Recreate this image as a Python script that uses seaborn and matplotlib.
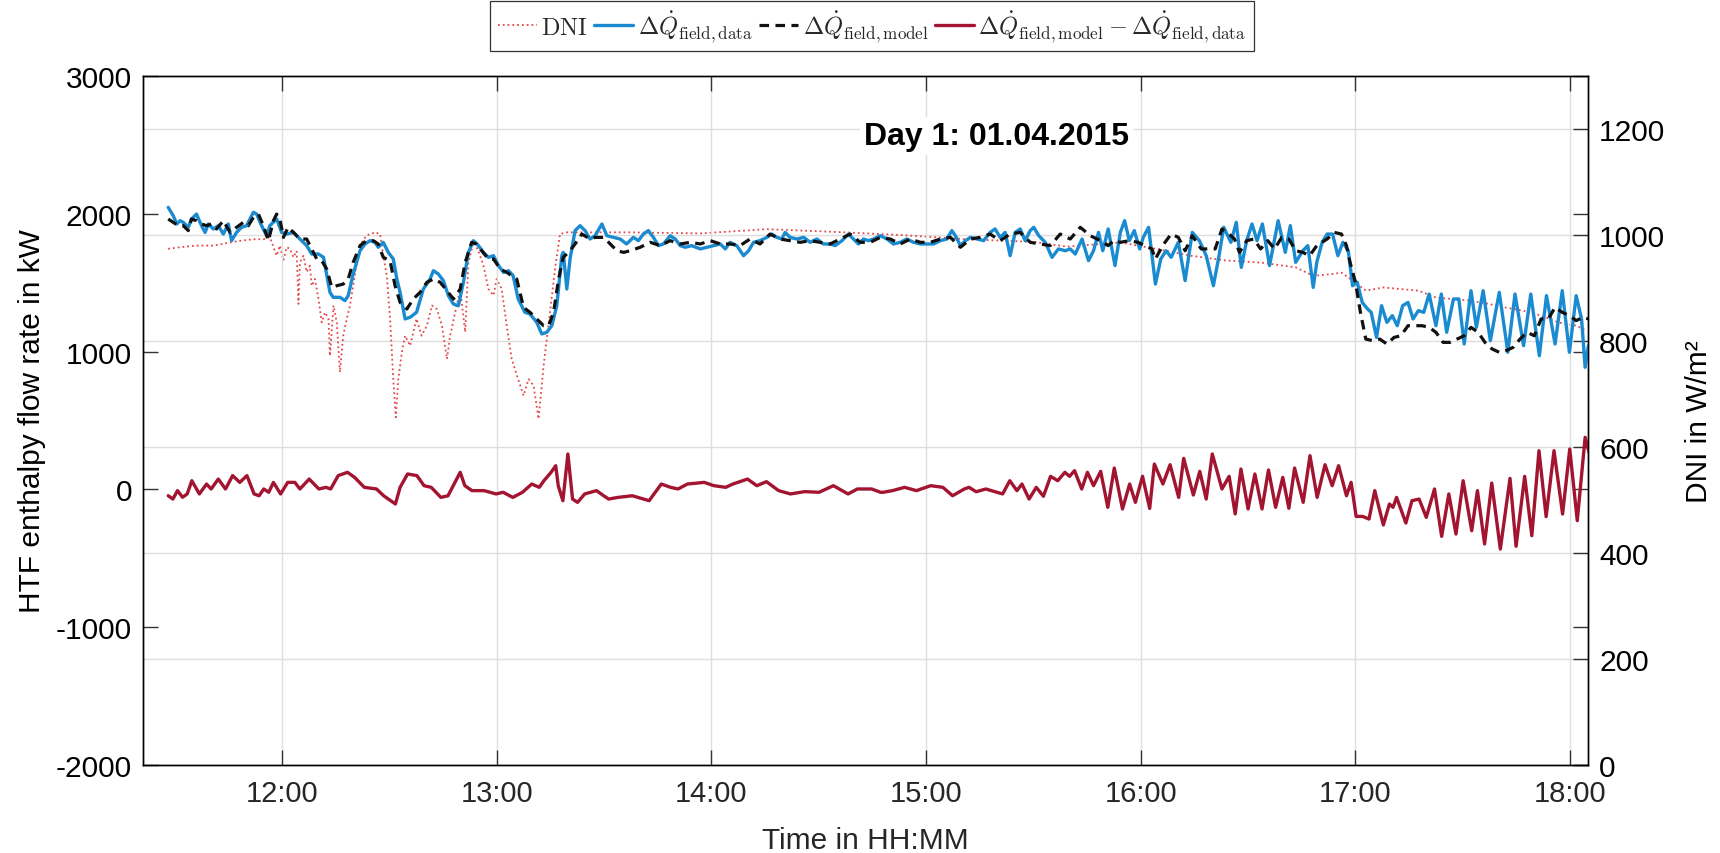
import numpy as np
import pandas as pd
import matplotlib
matplotlib.use("Agg")
import matplotlib.pyplot as plt
import seaborn as sns
from matplotlib.ticker import FixedLocator, FuncFormatter

# ---------------- data (time in minutes relative to 12:00) ----------------
NOON_MIN = 720

t_data = [-31.8, -30.4, -29.4, -28.5, -27.6, -26.2, -25.3, -23.9, -22.5, -21.5,
          -20.6, -19.2, -17.8, -16.4, -15.0, -14.1, -12.7, -11.3, -9.9, -8.0,
          -7.1, -5.7, -4.3, -3.4, -1.5, -0.1, 1.3, 3.2, 5.0, 6.9,
          8.3, 10.2, 11.6, 13.4, 14.3, 16.2, 17.6, 18.5, 19.9, 21.8,
          23.2, 24.6, 26.0, 26.9, 28.3, 29.7, 31.1, 32.1, 33.0, 34.4,
          35.8, 37.6, 39.5, 41.4, 42.3, 43.7, 45.1, 46.5, 47.9, 49.3,
          50.7, 52.1, 53.5, 54.9, 56.3, 57.7, 59.1, 60.5, 61.9, 63.3,
          64.6, 66.0, 67.9, 69.3, 71.2, 72.6, 74.0, 75.4, 76.8, 78.2,
          78.6, 79.6, 80.5, 81.9, 83.3, 84.7, 86.1, 87.5, 89.4, 90.8,
          92.6, 94.5, 96.3,
          98.2, 99.6, 101.0, 102.4, 103.8, 105.2, 106.6, 108.5, 109.9, 111.3,
          112.7, 114.5, 116.9, 118.7, 120.6, 122.5, 123.9, 125.2, 127.1, 129.0,
          130.4, 131.8, 133.6, 135.5, 136.9, 138.3, 139.7, 140.6, 142.0, 143.9,
          145.8, 147.6, 149.5, 151.3, 153.2, 154.6, 156.5, 158.3, 159.7, 161.1,
          162.5, 163.9, 165.3, 167.2, 169.1, 170.9, 172.8, 174.6, 176.5, 178.4,
          180.2, 182.1, 184.0, 185.8, 187.2, 188.2, 189.6, 191.0, 192.4, 194.2,
          196.1, 197.9, 199.3, 200.7, 202.1, 203.5, 204.9, 206.3, 207.7, 209.1,
          210.1, 211.5, 213.3, 215.2, 217.0, 218.9, 220.3, 221.7, 223.6, 225.4,
          226.8, 228.2,
          229.4, 230.9, 232.8, 234.3, 235.5, 236.8, 238.2, 239.7, 240.7, 242.2,
          244.1, 245.6, 247.1, 248.5, 250.5, 252.4, 254.4, 256.4, 258.3, 260.3,
          261.8, 263.2, 265.2, 266.7, 268.1, 269.6, 271.1, 272.5, 274.0, 276.0,
          278.4, 280.4, 281.8, 283.3, 285.3, 286.7, 288.2, 289.2, 290.7, 292.1,
          293.6, 295.1, 296.5, 298.0, 299.2, 300.5, 301.9, 303.4, 304.4, 305.9,
          307.3, 308.8, 310.3, 311.7, 313.2, 314.7, 316.1, 317.6, 319.1, 320.6,
          322.5, 324.0, 325.5, 327.4, 328.9, 330.4, 332.3, 333.8, 335.7, 337.7,
          340.2, 342.6, 344.6, 347.0, 349.0, 351.4, 353.4, 355.8, 357.8, 359.8,
          361.7, 363.2, 364.2, 365.1]
q_data = [2047, 1986, 1926, 1950, 1938, 1902, 1962, 1998, 1914, 1865,
          1926, 1890, 1914, 1853, 1926, 1805, 1865, 1902, 1914, 2011,
          1998, 1914, 1841, 1914, 1962, 1865, 1853, 1865, 1817, 1769,
          1708, 1708, 1684, 1430, 1394, 1394, 1370, 1406, 1563, 1732,
          1781, 1805, 1793, 1757, 1793, 1720, 1672, 1527, 1430, 1237,
          1249, 1285, 1454, 1527, 1587, 1563, 1515, 1406, 1345, 1333,
          1503, 1720, 1805, 1769, 1720, 1684, 1696, 1624, 1575, 1587,
          1551, 1382, 1285, 1273, 1212, 1128, 1140, 1188, 1333, 1696,
          1720, 1454, 1672, 1878, 1914, 1878, 1817, 1841, 1926, 1841,
          1829, 1817, 1781,
          1829, 1805, 1853, 1878, 1829, 1769, 1781, 1841, 1817, 1769,
          1757, 1769, 1745, 1757, 1769, 1781, 1745, 1793, 1769, 1696,
          1732, 1793, 1805, 1829, 1853, 1829, 1817, 1865, 1829, 1817,
          1829, 1793, 1817, 1781, 1781, 1769, 1805, 1853, 1817, 1781,
          1817, 1805, 1817, 1841, 1817, 1781, 1793, 1817, 1793, 1781,
          1781, 1781, 1805, 1817, 1878, 1841, 1769, 1805, 1829, 1817,
          1805, 1865, 1890, 1829, 1865, 1696, 1865, 1890, 1805, 1878,
          1902, 1841, 1793, 1684, 1745, 1732, 1745, 1708, 1817, 1660,
          1732, 1865,
          1732, 1890, 1624, 1865, 1950, 1805, 1878, 1745, 1829, 1902,
          1490, 1672, 1732, 1684, 1793, 1515, 1865, 1805, 1696, 1478,
          1684, 1902, 1793, 1938, 1611, 1805, 1926, 1805, 1926, 1624,
          1950, 1720, 1914, 1648, 1732, 1769, 1466, 1648, 1793, 1853,
          1853, 1696, 1793, 1732, 1478, 1503, 1357, 1309, 1285, 1103,
          1333, 1212, 1261, 1188, 1333, 1357, 1237, 1297, 1285, 1418,
          1188, 1418, 1140, 1382, 1382, 1055, 1442, 1176, 1442, 1079,
          1430, 995, 1418, 1043, 1418, 970, 1406, 1055, 1442, 995,
          1406, 1237, 886, 1043]

t_model = [-31.8, -30.4, -29.0, -27.6, -26.2, -25.3, -23.9, -22.5, -21.1, -19.7,
           -18.3, -16.4, -14.5, -12.7, -10.8, -9.4, -8.0, -6.6, -5.2, -3.8,
           -2.4, -1.5, -0.6, 0.4, 1.7, 3.2, 5.0, 6.9, 8.3, 9.7,
           11.1, 12.5, 13.9, 15.3, 17.1, 18.5, 19.9, 21.8, 23.6, 25.5,
           26.9, 28.3, 30.2, 31.6, 33.0, 34.9, 36.7, 38.6, 40.5, 42.3,
           44.2, 46.1, 47.9, 49.8, 51.2, 53.0, 54.4, 55.8, 57.7, 59.1,
           61.0, 62.8, 64.2, 65.6, 67.5, 69.3, 71.2, 73.1, 74.5, 75.9,
           77.3, 78.6, 80.5, 81.9, 83.8, 86.1, 87.5, 89.9, 92.2, 93.6,
           95.5, 97.3,
           100.1, 102.9, 105.7, 108.5, 111.3, 114.1, 116.9, 119.7, 122.5, 125.2,
           128.0, 130.8, 133.6, 136.4, 139.2, 142.0, 144.8, 147.6, 150.4, 153.2,
           156.0, 158.8, 161.6, 164.4, 167.2, 170.0, 172.8, 175.6, 178.4, 181.2,
           184.0, 186.8, 189.6, 192.4, 195.1, 197.9, 200.7, 203.5, 206.3, 209.1,
           211.9, 214.7, 217.5, 220.3, 223.1, 225.9, 228.7,
           230.9, 232.4, 234.3, 236.8, 239.2, 241.2, 243.1, 244.1, 246.1, 248.5,
           250.5, 252.4, 254.4, 256.9, 258.8, 260.8, 262.7, 264.7, 266.2, 267.6,
           269.6, 271.6, 273.5, 275.5, 277.4, 279.4, 281.4, 283.3, 285.3, 287.2,
           289.2, 292.1, 294.1, 296.1, 297.5, 298.5, 300.0, 301.4, 302.9, 304.9,
           306.8, 308.8, 310.8, 312.7, 314.7, 316.6, 318.6, 320.6, 322.5, 324.5,
           326.4, 328.4, 330.4, 332.3, 334.3, 336.2, 338.2, 340.2, 342.1, 344.1,
           346.0, 348.0, 350.0, 351.9, 353.9, 355.8, 357.8, 359.8, 361.7, 363.7,
           365.1]
q_model = [1962, 1938, 1914, 1914, 1878, 1962, 1950, 1926, 1914, 1926,
           1890, 1950, 1865, 1902, 1938, 1914, 1974, 1998, 1914, 1805,
           1950, 1998, 1962, 1829, 1902, 1865, 1817, 1817, 1744, 1672,
           1660, 1599, 1466, 1478, 1490, 1527, 1648, 1769, 1805, 1805,
           1781, 1684, 1660, 1478, 1357, 1309, 1382, 1430, 1503, 1527,
           1503, 1442, 1382, 1454, 1648, 1793, 1781, 1732, 1672, 1672,
           1599, 1575, 1551, 1527, 1321, 1285, 1237, 1188, 1188, 1285,
           1527, 1684, 1732, 1781, 1853, 1817, 1829, 1829, 1769, 1732,
           1720, 1732,
           1757, 1793, 1769, 1805, 1781, 1793, 1781, 1805, 1781, 1781,
           1769, 1817, 1781, 1853, 1817, 1805, 1793, 1805, 1793, 1781,
           1817, 1853, 1793, 1793, 1829, 1817, 1781, 1817, 1793, 1793,
           1817, 1829, 1757, 1817, 1829, 1853, 1805, 1853, 1865, 1793,
           1781, 1769, 1853, 1817, 1902, 1841, 1805,
           1769, 1805, 1793, 1805, 1793, 1769, 1745, 1672, 1769, 1853,
           1829, 1732, 1841, 1745, 1745, 1745, 1890, 1853, 1817, 1720,
           1805, 1817, 1745, 1805, 1745, 1829, 1817, 1732, 1720, 1696,
           1769, 1817, 1865, 1853, 1769, 1648, 1503, 1285, 1091, 1079,
           1091, 1055, 1103, 1115, 1188, 1188, 1188, 1176, 1140, 1067,
           1067, 1091, 1115, 1176, 1140, 1067, 1019, 995, 1007, 1031,
           1091, 1140, 1115, 1237, 1237, 1321, 1285, 1261, 1225, 1249,
           1237]

t_dni = [-31.8, -28.5, -23.9, -19.2, -14.5, -11.7, -8.0, -5.2, -3.4, -1.5,
         -0.6, 0.4, 1.3, 2.2, 3.2, 4.1, 4.6, 5.0, 6.0, 6.9,
         7.8, 8.3, 9.2, 10.2, 11.1, 12.0, 13.0, 13.4, 14.4, 15.3,
         16.2, 17.1, 18.1, 19.0, 19.9, 20.9, 22.3, 23.6, 26.0, 27.4,
         28.3, 29.3, 30.2, 31.1, 31.8, 32.5, 33.5, 34.4, 35.8, 37.6,
         39.0, 40.5, 41.9, 43.3, 44.7, 46.1, 47.0, 48.4, 49.8, 51.2,
         52.1, 53.5, 54.9, 56.3, 57.7, 59.1, 60.0, 61.4, 62.8, 64.2,
         66.0, 67.5, 68.9, 70.3, 71.7, 73.1, 74.0, 74.9, 76.3, 77.7,
         79.6, 83.3, 88.0, 92.6, 97.3,
         116.9, 135.5, 154.1, 172.8, 191.4, 210.1, 219.4, 228.7,
         234.3, 244.1, 253.9, 263.7, 273.5, 283.3, 288.2, 293.1, 296.1, 298.0,
         300.0, 302.9, 307.8, 312.7, 317.6, 322.5, 327.4, 332.3, 337.2, 342.1,
         347.0, 351.9, 356.7, 361.7, 364.7]
dni = [974, 977, 980, 980, 986, 989, 992, 992, 996, 961,
       980, 952, 977, 974, 958, 970, 870, 948, 961, 930,
       942, 904, 917, 879, 835, 854, 842, 772, 867, 835,
       741, 810, 842, 867, 904, 948, 986, 999, 1005, 1002,
       961, 923, 842, 728, 656, 728, 779, 810, 791, 842,
       810, 829, 867, 860, 829, 766, 810, 854, 898, 817,
       948, 986, 970, 942, 898, 886, 917, 898, 829, 766,
       728, 697, 728, 716, 653, 753, 804, 854, 936, 1002,
       1005, 1005, 1005, 1005, 1005,
       1003, 1011, 1006, 1000, 992, 987, 978, 983,
       986, 974, 961, 952, 948, 939, 923, 926, 929, 920,
       910, 895, 901, 898, 895, 882, 879, 876, 870, 863,
       857, 848, 835, 829, 819]

t_diff = [-31.8, -30.5, -29.2, -27.8, -26.5, -25.2, -23.1, -21.1, -19.8, -17.8,
          -15.8, -13.8, -11.8, -9.8, -7.8, -6.4, -5.1, -3.7, -2.4, -0.4,
          1.6, 3.6, 5.0, 7.6, 10.3, 12.3, 13.6, 15.7, 18.3, 20.3,
          23.0, 26.4, 28.4, 31.7, 33.0, 35.1, 37.7, 39.7, 41.7, 44.4,
          46.4, 49.8, 51.1, 53.1, 56.5, 59.8, 61.8, 64.5, 67.2, 69.8,
          71.9, 73.2, 75.2, 76.5, 77.2, 78.5, 79.9, 81.2, 82.6, 84.6,
          87.9, 89.9, 91.3, 93.9, 97.9, 102.6, 106.0, 108.6, 110.7, 113.3,
          118.0, 120.7, 124.0, 126.0, 130.1, 132.7, 135.4, 138.8, 142.1, 146.1,
          150.1, 154.1, 158.2, 160.8, 164.8, 167.3,
          168.0, 170.6, 174.0, 177.3, 181.3, 184.7, 187.4, 190.7, 192.0, 194.0,
          196.7, 201.4, 203.4, 205.4, 206.8, 208.8, 210.8, 212.8, 214.8, 216.8,
          218.8, 220.1, 221.5, 223.5, 225.1, 226.8, 228.8, 230.8, 232.6, 234.9,
          236.9, 238.5, 240.5, 242.5, 243.8, 246.2, 248.2, 250.6, 252.0, 254.7,
          256.5, 258.3, 260.0, 262.7, 264.7, 266.4, 268.0, 270.0, 271.9, 273.9,
          275.7, 277.7, 279.7, 281.4, 283.0, 285.4, 287.3, 289.3, 291.5, 293.5,
          295.3, 297.5, 298.8, 300.2, 302.0, 303.8, 305.4, 307.8, 309.5, 310.5,
          311.5, 314.1, 315.8, 317.8, 319.8, 322.1, 324.1, 326.1, 328.1, 330.1,
          332.5, 334.1, 336.1, 338.1, 340.5, 343.2, 344.9, 347.3, 349.3, 351.3,
          353.3, 355.5, 357.9, 359.9, 362.0, 364.2, 365.3]
q_diff = [-46, -70, -9, -57, -33, 63, -33, 39, 3, 75,
          3, 100, 51, 100, -33, -46, 3, -21, 51, -33,
          51, 51, 3, 75, 3, 15, 3, 100, 124, 87,
          15, 3, -46, -106, 15, 112, 100, 27, 15, -58,
          -46, 124, 27, -9, -9, -33, -21, -58, -21, 39,
          15, 63, 124, 172, 27, -82, 257, -70, -94, -33,
          -9, -46, -70, -58, -46, -82, 39, 15, 3, 39,
          51, 27, 15, 39, 75, 27, 56, -9, -33, -16,
          -21, 27, -33, 3, 3, -21,
          -21, -9, 15, -9, 27, 15, -46, 3, 15, -17,
          3, -33, 63, -9, 39, -70, 15, -50, 95, 63,
          124, 95, 136, 3, 124, 27, 131, -130, 155, -142,
          39, -94, 95, -138, 184, 39, 179, -58, 225, -41,
          131, -70, 257, 3, 95, -178, 148, -142, 112, -142,
          141, -130, 87, -137, 155, -94, 245, -58, 179, 27,
          172, -46, 51, -196, -196, -215, -9, -258, -106, -130,
          -58, -244, -82, -70, -203, 3, -341, -33, -324, 63,
          -300, -9, -396, 46, -433, 80, -413, 95, -336, 281,
          -198, 281, -179, 293, -227, 378, 269]

hour_ticks = [12, 13, 14, 15, 16, 17, 18]
left_ticks = [-2000, -1000, 0, 1000, 2000, 3000]
right_ticks = [0, 200, 400, 600, 800, 1000, 1200]

labels = [r"$\mathrm{DNI}$",
          r"$\Delta\dot{Q}_{\mathrm{field,data}}$",
          r"$\Delta\dot{Q}_{\mathrm{field,model}}$",
          r"$\Delta\dot{Q}_{\mathrm{field,model}}-\Delta\dot{Q}_{\mathrm{field,data}}$"]

# ---------------- style ----------------
sns.set_theme(style="white")
plt.rcParams['font.family'] = ['Liberation Sans', 'DejaVu Sans']
plt.rcParams['mathtext.fontset'] = 'cm'
plt.rcParams['axes.unicode_minus'] = False

C_DNI = '#e5484a'
C_DATA = '#1a8bd0'
C_MODEL = '#111111'
C_DIFF = '#a2142f'
GRID = '#dedede'


def to_hours(t):
    return (NOON_MIN + np.asarray(t, dtype=float)) / 60.0


df_data = pd.DataFrame({'t': to_hours(t_data), 'v': q_data})
df_model = pd.DataFrame({'t': to_hours(t_model), 'v': q_model})
df_dni = pd.DataFrame({'t': to_hours(t_dni), 'v': dni})
df_diff = pd.DataFrame({'t': to_hours(t_diff), 'v': q_diff})

W, H = 1720, 854
fig = plt.figure(figsize=(W / 100, H / 100), dpi=100)
L, R, T, B = 143, 1588, 77, 766
ax = fig.add_axes([L / W, 1 - B / H, (R - L) / W, (B - T) / H])
ax2 = ax.twinx()
ax.set_zorder(ax2.get_zorder() + 1)
ax.patch.set_visible(False)
ax2.patch.set_facecolor('white')

sns.lineplot(data=df_dni, x='t', y='v', ax=ax2, color=C_DNI, linewidth=1.3,
             linestyle=':', estimator=None, sort=False, legend=False)
sns.lineplot(data=df_data, x='t', y='v', ax=ax, color=C_DATA, linewidth=2.4,
             estimator=None, sort=False, legend=False)
sns.lineplot(data=df_model, x='t', y='v', ax=ax, color=C_MODEL, linewidth=2.3,
             linestyle=(0, (3, 2)), estimator=None, sort=False, legend=False)
sns.lineplot(data=df_diff, x='t', y='v', ax=ax, color=C_DIFF, linewidth=2.4,
             estimator=None, sort=False, legend=False)

x0 = (NOON_MIN - 38.85) / 60.0
x1 = (NOON_MIN + 365.0) / 60.0
ax.set_xlim(x0, x1)
ax.set_ylim(-2000, 3000)
ax2.set_ylim(0, 1300)

ax.xaxis.set_major_locator(FixedLocator(hour_ticks))
ax.xaxis.set_major_formatter(FuncFormatter(lambda v, p: f"{int(round(v)):02d}:00"))
ax.yaxis.set_major_locator(FixedLocator(left_ticks))
ax2.yaxis.set_major_locator(FixedLocator(right_ticks))

ax.grid(axis='x', color=GRID, linewidth=1.0)
ax.grid(axis='y', visible=False)
ax2.grid(axis='y', color=GRID, linewidth=1.0)
ax2.grid(axis='x', visible=False)
ax.set_axisbelow(True)
ax2.set_axisbelow(True)

for a in (ax, ax2):
    for s in a.spines.values():
        s.set_visible(True)
        s.set_color('black')
        s.set_linewidth(1.0)

ax.tick_params(axis='x', direction='in', length=10.5, width=1, bottom=True, top=True,
               labelsize=21, labelcolor='#262626', pad=10, color='#333333')
ax.tick_params(axis='y', direction='in', length=10.5, width=1, left=True, right=True,
               labelleft=True, labelright=False, labelsize=21.5, labelcolor='black', pad=8,
               color='#333333')
ax2.tick_params(axis='y', direction='in', length=10.5, width=1, right=True, left=False,
                labelright=True, labelsize=21.5, labelcolor='black', pad=8, color='#333333')

ax.set_xlabel('Time in HH:MM', fontsize=21.5, color='#262626', labelpad=14)
ax.set_ylabel('HTF enthalpy flow rate in kW', fontsize=21.5, color='black', labelpad=7)
ax2.set_ylabel('DNI in W/m²', fontsize=21.5, color='black', labelpad=14)

ax.text(0.591, 0.913, 'Day 1: 01.04.2015', transform=ax.transAxes, ha='center',
        va='center', fontsize=23, fontweight='bold', color='black', zorder=5,
        bbox=dict(facecolor='white', edgecolor='none', pad=3))

handles = [ax2.lines[0], ax.lines[0], ax.lines[1], ax.lines[2]]
leg = fig.legend(handles, labels, loc='upper center', bbox_to_anchor=(0.507, 0.998),
                 ncol=4, frameon=True, fancybox=False, edgecolor='#333333',
                 framealpha=1, fontsize=17.5, handlelength=1.6, handletextpad=0.2,
                 columnspacing=0.25, borderpad=0.3, borderaxespad=0)
leg.get_frame().set_linewidth(0.9)

fig.savefig('out.png', dpi=100, facecolor='white')
